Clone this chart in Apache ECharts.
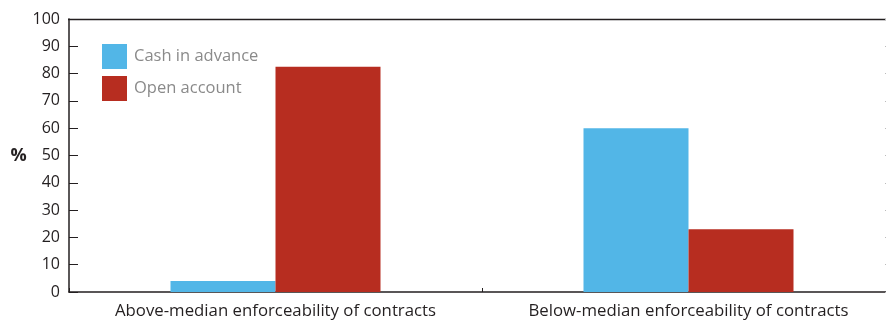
<!DOCTYPE html>
<html>
<head>
<meta charset="utf-8">
<script src="https://cdn.jsdelivr.net/npm/echarts@6/dist/echarts.min.js"></script>
<style>
  html, body { margin: 0; padding: 0; background: #fff; }
  #chart { width: 886px; height: 322px; }
</style>
</head>
<body>
<div id="chart"></div>
<script>
const categories = ["Above-median enforceability of contracts", "Below-median enforceability of contracts"];
const cashInAdvance = [4, 60];
const openAccount = [82.5, 23];
const seriesNames = ["Cash in advance", "Open account"];

const chart = echarts.init(document.getElementById("chart"));
const font = "'Open Sans', sans-serif";
const axisColor = "#231f20";

chart.setOption({
  backgroundColor: "#fff",
  animation: false,
  textStyle: { fontFamily: font },
  grid: { left: 69, width: 826, top: 19, bottom: 30, outerBoundsMode: "none", containLabel: false },
  legend: {
    orient: "vertical",
    left: 102,
    top: 44,
    padding: 0,
    itemWidth: 25,
    itemHeight: 25,
    itemGap: 7,
    icon: "rect",
    data: seriesNames,
    textStyle: { color: "#8a8a8a", fontSize: 16.5, fontFamily: font, padding: [0, 0, 0, 2] }
  },
  xAxis: {
    type: "category",
    data: categories,
    axisLine: { lineStyle: { color: axisColor, width: 1.5 } },
    axisTick: { show: true, inside: true, length: 4, alignWithLabel: false, lineStyle: { color: axisColor } },
    axisLabel: { color: axisColor, fontSize: 16.8, margin: 11, interval: 0, hideOverlap: false, fontFamily: font }
  },
  yAxis: [
    {
      type: "value",
      min: 0,
      max: 100,
      interval: 10,
      name: "%",
      nameLocation: "middle",
      nameRotate: 0,
      nameGap: 40,
      nameTextStyle: { color: axisColor, fontSize: 18, fontWeight: "bold", fontFamily: font },
      axisLine: { show: true, lineStyle: { color: axisColor, width: 1.5 } },
      axisTick: { show: true, inside: true, length: 9, lineStyle: { color: axisColor } },
      axisLabel: { color: axisColor, fontSize: 16, margin: 9, fontFamily: font },
      splitLine: { show: false }
    },
    {
      type: "value",
      min: 0,
      max: 100,
      interval: 10,
      position: "right",
      axisLine: { show: true, lineStyle: { color: "#bbb" } },
      axisTick: { show: true, inside: true, length: 10, lineStyle: { color: "#bbb" } },
      axisLabel: { show: false },
      splitLine: { show: false }
    }
  ],
  graphic: [
    { type: "line", shape: { x1: 68, y1: 19.5, x2: 886, y2: 19.5 }, style: { stroke: axisColor, lineWidth: 1.5 } }
  ],
  series: [
    {
      name: seriesNames[0],
      type: "bar",
      data: cashInAdvance,
      barWidth: 105,
      barGap: "0%",
      itemStyle: { color: "#52b6e7" }
    },
    {
      name: seriesNames[1],
      type: "bar",
      data: openAccount,
      barWidth: 105,
      barGap: "0%",
      itemStyle: { color: "#b72d20" }
    }
  ]
});
</script>
</body>
</html>
